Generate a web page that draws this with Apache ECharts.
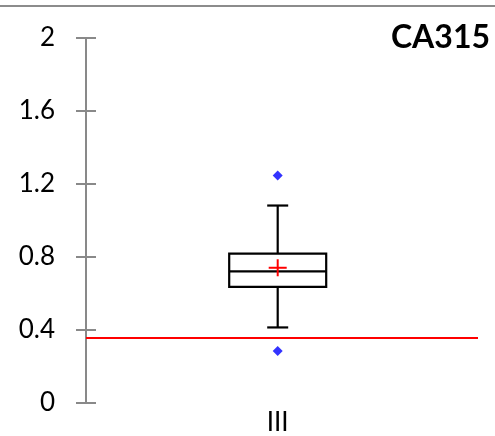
<!DOCTYPE html>
<html>
<head>
<meta charset="utf-8">
<script src="https://cdn.jsdelivr.net/npm/echarts@6/dist/echarts.min.js"></script>
<style>
html,body{margin:0;padding:0;background:#fff;}
#c{width:495px;height:436px;}
</style>
</head>
<body>
<div id="c"></div>
<script>
// ---- data ----
const categories = ['III'];
const boxStats = [[0.414, 0.636, 0.721, 0.819, 1.082]]; // low, q1, median, q3, high
const means = [0.741];
const outliers = [[0, 1.247], [0, 0.285]];
const threshold = 0.359;
const yTicks = { min: 0, max: 2, interval: 0.4 };
const titleText = 'CA315';

const chart = echarts.init(document.getElementById('c'));
const boxData = boxStats.map((s, i) => [i].concat(s).concat([means[i]]));

chart.setOption({
  animation: false,
  backgroundColor: '#fff',
  grid: { left: 86, right: 25.6, top: 38, bottom: 33 },
  xAxis: {
    type: 'category',
    data: categories,
    boundaryGap: true,
    axisLine: { show: false },
    axisTick: { show: false },
    axisLabel: { color: '#000', fontFamily: 'Lato', fontSize: 26, margin: 7 }
  },
  yAxis: [{
    type: 'value', min: yTicks.min, max: yTicks.max, interval: yTicks.interval,
    position: 'left',
    splitLine: { show: false },
    axisLine: { show: true, lineStyle: { color: '#898989', width: 2 } },
    axisTick: { show: true, length: 10, lineStyle: { color: '#898989', width: 2 } },
    axisLabel: { color: '#000', fontFamily: 'Lato', fontSize: 26, margin: 31,
      formatter: v => String(Math.round(v * 10) / 10) }
  }, {
    type: 'value', min: yTicks.min, max: yTicks.max, interval: yTicks.interval,
    position: 'left', offset: 0,
    splitLine: { show: false },
    axisLine: { show: false },
    axisTick: { show: true, inside: true, length: 10, lineStyle: { color: '#898989', width: 2 } },
    axisLabel: { show: false }
  }],
  graphic: [
    { type: 'line', shape: { x1: 0, y1: 6, x2: 495, y2: 6 }, style: { stroke: '#8c8c8c', lineWidth: 2 }, z: 10 },
    { type: 'text', x: 490, y: 38, style: { text: titleText, align: 'right', verticalAlign: 'middle',
      fill: '#000', font: 'bold 32px Lato' }, z: 10 }
  ],
  series: [{
    type: 'custom',
    data: boxData,
    encode: { x: 0, y: [1, 2, 3, 4, 5, 6] },
    markLine: {
      silent: true, symbol: 'none', label: { show: false },
      lineStyle: { color: '#ff0000', width: 2, type: 'solid' },
      data: [[{ x: 86, yAxis: threshold }, { x: 478, yAxis: threshold }]]
    },
    renderItem: function (params, api) {
      const c = api.value(0);
      const low = api.coord([c, api.value(1)]);
      const q1 = api.coord([c, api.value(2)]);
      const med = api.coord([c, api.value(3)]);
      const q3 = api.coord([c, api.value(4)]);
      const high = api.coord([c, api.value(5)]);
      const mean = api.coord([c, api.value(6)]);
      const x = low[0];
      const hw = 48.5, cw = 10.5, mw = 9;
      const st = { stroke: '#000', lineWidth: 2.2, fill: null };
      const red = { stroke: '#ff0000', lineWidth: 2, fill: null };
      return {
        type: 'group',
        children: [
          { type: 'line', shape: { x1: x, y1: high[1], x2: x, y2: q3[1] }, style: st },
          { type: 'line', shape: { x1: x, y1: q1[1], x2: x, y2: low[1] }, style: st },
          { type: 'line', shape: { x1: x - cw, y1: high[1], x2: x + cw, y2: high[1] }, style: st },
          { type: 'line', shape: { x1: x - cw, y1: low[1], x2: x + cw, y2: low[1] }, style: st },
          { type: 'rect', shape: { x: x - hw, y: q3[1], width: 2 * hw, height: q1[1] - q3[1] }, style: { stroke: '#000', lineWidth: 2.2, fill: '#fff' } },
          { type: 'line', shape: { x1: x - hw, y1: med[1], x2: x + hw, y2: med[1] }, style: st },
          { type: 'line', shape: { x1: x - mw, y1: mean[1], x2: x + mw, y2: mean[1] }, style: red },
          { type: 'line', shape: { x1: x, y1: mean[1] - 8.5, x2: x, y2: mean[1] + 8.5 }, style: red }
        ]
      };
    }
  }, {
    type: 'scatter',
    data: outliers,
    symbol: 'diamond',
    symbolSize: 10,
    itemStyle: { color: '#0000ff' },
    z: 5
  }]
});
</script>
</body>
</html>
